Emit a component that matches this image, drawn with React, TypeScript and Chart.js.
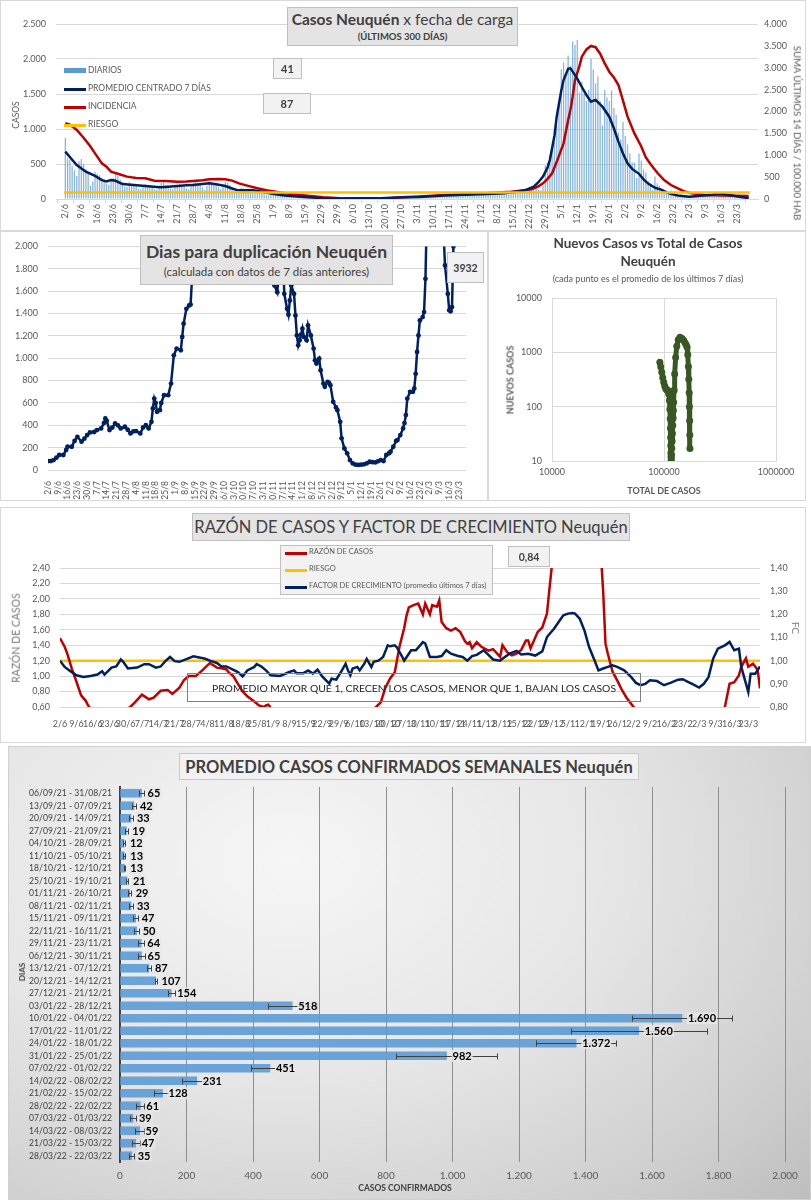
import React, { useEffect, useRef } from 'react';
import { Chart, registerables } from 'chart.js';
Chart.register(...registerables);

const FONT = 'Lato, "Noto Sans", sans-serif';
const NAVY = '#002060';
const RED = '#c00000';
const ORANGE = '#ffc000';
const BLUE = '#5b9bd5';
const GREEN = '#385723';
const TXT = '#595959';
const DARK = '#404040';
const GRID = '#d9d9d9';

// ---------- shared x tick labels (one every 7 days, day 0 = 2/6) ----------
const tickLabels = ['2/6','9/6','16/6','23/6','30/6','7/7','14/7','21/7','28/7','4/8','11/8','18/8','25/8','1/9','8/9','15/9','22/9','29/9','6/10','13/10','20/10','27/10','3/11','10/11','17/11','24/11','1/12','8/12','15/12','22/12','29/12','5/1','12/1','19/1','26/1','2/2','9/2','16/2','23/2','2/3','9/3','16/3','23/3'];

// ---------- Chart 1: Casos Neuquén x fecha de carga ----------
const diarios = [
 870,580,560,470,410,330,540, 570,500,430,370,190,250,390, 360,340,300,280,220,200,260,
 300,350,330,280,240,180,170, 240,220,200,210,150,140,190, 210,200,180,170,140,130,180,
 230,240,200,190,150,140,170, 200,210,190,180,150,140,180, 230,240,230,210,170,130,190,
 260,230,220,200,170,140,180, 240,230,200,170,110,90,120, 160,150,140,120,90,70,100,
 130,110,100,90,60,50,70, 80,75,65,60,45,40,55, 55,45,42,38,28,22,35,
 40,36,32,30,22,18,25, 24,22,20,18,13,10,15, 15,14,12,11,8,7,10,
 15,14,13,12,9,8,12, 15,16,14,13,10,9,13, 23,25,22,21,16,14,19,
 31,33,30,29,22,20,28, 36,38,34,33,26,23,31, 50,52,48,46,36,32,44,
 54,56,52,50,40,36,50, 68,72,66,62,52,46,60, 70,74,68,64,54,50,62,
 92,98,90,86,72,66,82, 115,122,110,106,92,86,102, 165,178,160,150,132,125,190,
 480,520,620,700,820,1050,1400, 1850,1950,1780,2050,1900,2250,2200, 2270,1520,1680,1500,1400,1560,2000,
 1850,1650,1750,1400,1050,1560,1450, 1400,1550,1300,1200,950,850,1100, 900,780,650,520,520,300,650,
 550,420,380,260,220,130,320, 220,190,140,100,90,60,120, 90,72,58,52,40,34,46,
 50,46,40,36,28,25,42, 66,62,56,50,42,36,52, 82,60,46,42,36,30,40,
 42,38,35,30,22,18
];
const promedio: [number, number][] = [
 [0,676],[3,560],[5,486],[9,390],[13,330],[16,270],[18,250],[20,272],[22,260],[25,214],[30,200],[35,186],[40,172],[42,167],[45,175],[49,186],[53,195],[56,200],[60,215],[63,225],[66,210],[70,186],[73,150],[75,129],[78,125],[82,125],[85,112],[88,90],[92,67],[96,50],[100,40],[106,24],[113,12],[120,8],[130,10],[138,12],[145,20],[155,30],[166,50],[175,60],[185,72],[192,81],[197,100],[201,124],[205,176],[207,240],[209,319],[211,450],[212,557],[214,900],[215,1176],[217,1550],[218,1700],[220,1860],[221,1867],[222,1820],[224,1720],[226,1600],[228,1486],[230,1391],[232,1415],[235,1319],[238,1176],[240,1010],[242,820],[244,650],[246,510],[248,430],[251,360],[253,280],[255,220],[258,160],[261,130],[264,80],[268,50],[273,33],[278,45],[283,60],[286,78],[290,60],[294,35],[299,12]
];
const incidencia: [number, number][] = [
 [0,1730],[2,1700],[5,1577],[8,1400],[11,1200],[13,1044],[16,815],[18,740],[20,625],[24,560],[27,511],[31,480],[35,472],[39,419],[44,410],[49,396],[53,400],[56,411],[60,430],[63,450],[67,455],[70,450],[73,420],[76,358],[80,300],[84,244],[88,200],[92,165],[96,130],[99,114],[106,75],[113,38],[120,15],[130,12],[142,15],[147,40],[155,60],[166,90],[180,120],[195,168],[200,195],[204,221],[207,290],[209,358],[211,460],[213,587],[215,850],[218,1272],[220,1800],[221,2035],[222,2350],[223,2720],[225,3050],[226,3254],[228,3420],[230,3498],[232,3470],[234,3320],[236,3100],[238,2910],[240,2780],[242,2606],[244,2250],[246,1882],[249,1500],[252,1200],[254,950],[256,800],[259,600],[262,434],[265,320],[268,244],[271,170],[274,129],[280,91],[288,80],[299,69]
];
const riesgoIncidencia = 150;
const ultimoDiario = 41;
const ultimoPromedio = 87;

// ---------- Chart 2: Días para duplicación ----------
const duplicacion: [number, number][] = [
 [0,80],[2,80],[4,89],[6,110],[8,134],[11,134],[13,180],[14,208],[17,208],[19,260],[21,297],[24,253],[26,280],[28,312],[30,336],[33,340],[35,357],[38,372],[40,420],[41,461],[42,440],[44,357],[46,380],[48,416],[50,400],[52,372],[55,387],[57,360],[59,327],[61,345],[63,348],[66,327],[68,380],[70,401],[72,372],[74,431],[75,550],[76,639],[77,600],[78,520],[80,535],[81,600],[83,669],[86,669],[88,773],[90,1026],[92,1086],[95,1071],[96,1190],[97,1309],[99,1442],[101,1472],[102,1480],[103,1710],[104,2200],[106,2900],[115,4200],[130,5200],[145,4500],[158,3000],[161,2100],[162,1650],[164,1590],[166,1900],[167,2400],[169,1576],[171,1442],[172,1389],[173,1517],[174,1650],[176,1576],[177,1383],[178,1204],[179,1115],[180,1160],[181,1210],[182,1264],[183,1190],[185,1160],[186,1294],[188,1204],[190,1086],[191,981],[192,952],[194,996],[195,892],[197,773],[198,744],[200,788],[201,780],[202,758],[204,610],[206,560],[207,535],[209,431],[210,283],[212,193],[214,149],[216,89],[218,59],[220,48],[222,45],[224,48],[226,51],[228,59],[230,74],[232,70],[234,68],[236,78],[238,89],[240,80],[242,134],[244,150],[245,164],[247,208],[249,260],[250,268],[252,312],[254,372],[255,420],[256,491],[257,639],[259,699],[261,699],[262,729],[263,860],[264,1056],[265,1204],[266,1338],[268,1368],[269,1413],[270,1710],[271,2300],[275,3500],[280,2800],[283,2100],[284,1829],[286,1576],[287,1428],[288,1420],[289,1457],[290,2000],[291,3000],[292,3932]
];
const ultimaDuplicacion = 3932;

// ---------- Chart 3: Nuevos casos vs total ----------
const totalCasos = [91800,93500,95500,97500,99500,101500,103500,105500,107500,109000,110500,111800,112800,113600,114200,114600,114900,115200,115500,115800,116200,116700,117300,118000,118800,119700,120500,121300,122000,123000,124500,127000,130000,134000,139000,145000,150000,154000,157500,160500,163000,165000,166500,167800,168700,169400,170000,170500];
const nuevosCasos = [655,540,430,340,280,240,215,205,200,195,170,130,90,60,40,27,19,14,12,10,11,13,17,23,32,45,62,85,120,200,400,800,1300,1700,1890,1800,1650,1500,1380,1250,900,550,320,180,100,55,30,17];

// ---------- Chart 4: Razón de casos y factor de crecimiento ----------
const razon: [number, number][] = [
 [0,1.49],[2,1.38],[3,1.30],[5,1.10],[7,0.93],[9,0.75],[11,0.68],[12,0.62],[13,0.58],[16,0.50],[20,0.45],[24,0.47],[27,0.54],[28,0.57],[30,0.60],[32,0.66],[35,0.76],[38,0.70],[40,0.72],[43,0.81],[46,0.82],[48,0.77],[51,0.85],[53,0.95],[55,1.00],[58,1.00],[61,1.08],[64,1.17],[67,1.11],[69,1.10],[71,1.09],[72,1.05],[74,1.00],[76,0.90],[78,0.80],[80,0.74],[83,0.67],[85,0.62],[87,0.60],[88,0.62],[89,0.63],[90,0.59],[93,0.52],[100,0.42],[110,0.38],[120,0.40],[128,0.45],[133,0.55],[135,0.60],[137,0.66],[139,0.85],[141,0.97],[143,1.05],[145,1.38],[147,1.62],[148,1.78],[149,1.89],[151,1.92],[153,1.94],[155,1.80],[156,1.94],[158,1.80],[159,1.92],[161,1.90],[162,1.98],[163,1.70],[165,1.62],[167,1.59],[169,1.62],[171,1.57],[173,1.45],[174,1.42],[175,1.44],[176,1.36],[178,1.44],[180,1.38],[183,1.33],[185,1.35],[188,1.25],[189,1.40],[191,1.31],[193,1.27],[195,1.29],[197,1.34],[199,1.46],[200,1.46],[201,1.36],[204,1.57],[206,1.63],[208,1.81],[209,2.11],[210,2.40],[211,2.90],[214,4.00],[220,4.50],[226,4.00],[230,3.00],[231,2.60],[232,2.10],[233,1.42],[234,1.29],[236,1.06],[238,0.945],[240,0.82],[242,0.72],[245,0.60],[247,0.52],[255,0.45],[265,0.40],[275,0.42],[282,0.50],[284,0.60],[286,0.90],[288,0.92],[290,1.01],[291,1.12],[293,1.23],[294,1.12],[296,1.16],[297,1.12],[298,1.08],[299,0.84]
];
const factorCrecimiento: [number, number][] = [
 [0,1.00],[2,0.973],[4,0.958],[7,0.937],[10,0.93],[13,0.934],[16,0.94],[18,0.954],[19,0.94],[22,0.97],[24,0.975],[26,1.005],[27,0.995],[29,0.966],[33,0.97],[36,0.985],[38,0.985],[41,0.97],[43,0.975],[45,0.998],[47,1.016],[49,0.998],[51,0.995],[54,1.007],[57,1.019],[60,1.013],[62,1.008],[64,1.0],[67,0.99],[69,0.975],[71,0.975],[73,0.966],[76,0.951],[78,0.932],[80,0.958],[83,0.973],[84,0.985],[86,0.975],[88,0.958],[90,0.937],[94,0.934],[98,0.951],[100,0.958],[101,0.946],[104,0.946],[106,0.958],[108,0.944],[110,0.961],[112,0.932],[115,0.901],[116,0.922],[118,0.918],[120,0.951],[122,0.987],[123,0.958],[124,0.937],[125,0.966],[127,0.973],[128,0.958],[130,0.987],[131,1.008],[133,0.973],[134,0.995],[136,1.0],[138,1.016],[140,1.066],[141,1.062],[143,1.066],[144,1.056],[146,1.02],[147,1.0],[150,1.045],[152,1.045],[155,1.08],[156,1.075],[158,1.016],[161,1.016],[163,1.02],[165,1.045],[167,1.03],[170,1.02],[172,1.016],[174,1.0],[176,1.02],[178,1.025],[181,1.045],[183,1.025],[185,1.005],[188,1.0],[189,1.008],[192,1.03],[195,1.042],[197,1.027],[200,1.03],[203,1.022],[206,1.04],[208,1.102],[211,1.138],[213,1.167],[215,1.196],[217,1.203],[219,1.206],[220,1.203],[222,1.181],[224,1.131],[226,1.059],[228,1.009],[230,0.958],[232,0.966],[234,0.973],[236,0.98],[238,0.973],[241,0.958],[244,0.929],[246,0.904],[248,0.894],[250,0.9],[252,0.915],[255,0.912],[258,0.894],[261,0.905],[264,0.918],[266,0.92],[268,0.91],[270,0.9],[273,0.884],[275,0.9],[277,0.929],[279,1.009],[281,1.052],[284,1.066],[286,1.081],[288,1.045],[290,1.052],[291,0.973],[293,0.901],[294,0.865],[295,0.944],[297,0.944],[299,0.975]
];
const riesgoRazon = 1.2;
const ultimaRazon = 0.84;

// ---------- Chart 5: Promedio casos confirmados semanales ----------
const semanas = ['06/09/21 - 31/08/21','13/09/21 - 07/09/21','20/09/21 - 14/09/21','27/09/21 - 21/09/21','04/10/21 - 28/09/21','11/10/21 - 05/10/21','18/10/21 - 12/10/21','25/10/21 - 19/10/21','01/11/21 - 26/10/21','08/11/21 - 02/11/21','15/11/21 - 09/11/21','22/11/21 - 16/11/21','29/11/21 - 23/11/21','06/12/21 - 30/11/21','13/12/21 - 07/12/21','20/12/21 - 14/12/21','27/12/21 - 21/12/21','03/01/22 - 28/12/21','10/01/22 - 04/01/22','17/01/22 - 11/01/22','24/01/22 - 18/01/22','31/01/22 - 25/01/22','07/02/22 - 01/02/22','14/02/22 - 08/02/22','21/02/22 - 15/02/22','28/02/22 - 22/02/22','07/03/22 - 01/03/22','14/03/22 - 08/03/22','21/03/22 - 15/03/22','28/03/22 - 22/03/22'];
const semanalValores = [65,42,33,19,12,13,13,21,29,33,47,50,64,65,87,107,154,518,1690,1560,1372,982,451,231,128,61,39,59,47,35];
const semanalError = [8,7,6,4,3,3,2,4,5,5,7,8,9,11,7,3,10,73,150,205,120,153,58,45,25,12,8,14,12,8];

// ---------- helpers ----------
const miles = (v: number) => String(Math.round(v)).replace(/\B(?=(\d{3})+(?!\d))/g, '.');
const dec2 = (v: number) => v.toFixed(2).replace('.', ',');
const pts = (a: [number, number][]) => a.map(([x, y]) => ({ x, y }));
const weekTicks = (ax: any) => { ax.ticks = tickLabels.map((_, i) => ({ value: i * 7 })); };
const fixW = (w: number) => (s: any) => { s.width = w; };
const fixH = (h: number) => (s: any) => { s.height = h; };
const f = (size: number, weight: any = 'normal') => ({ family: FONT, size, weight });

function ChartCanvas({ x, y, w, h, make }: { x: number; y: number; w: number; h: number; make: () => any }) {
  const ref = useRef<HTMLCanvasElement>(null);
  useEffect(() => {
    const c = new Chart(ref.current as HTMLCanvasElement, make());
    return () => c.destroy();
  }, []);
  return <canvas ref={ref} width={w} height={h} style={{ position: 'absolute', left: x, top: y, width: w, height: h }} />;
}

function Txt({ cx, cy, rot = 0, style, children }: any) {
  return (
    <div style={{ position: 'absolute', left: cx, top: cy, transform: `translate(-50%,-50%) rotate(${rot}deg)`, whiteSpace: 'nowrap', fontFamily: FONT, lineHeight: 1, ...style }}>
      {children}
    </div>
  );
}

function Box({ x, y, w, h, bg = '#e4e4e4', border = '#bfbfbf', children, style }: any) {
  return (
    <div style={{ position: 'absolute', left: x, top: y, width: w, height: h, boxSizing: 'border-box', background: bg, border: `1px solid ${border}`, display: 'flex', flexDirection: 'column', alignItems: 'center', justifyContent: 'center', fontFamily: FONT, color: DARK, whiteSpace: 'nowrap', ...style }}>
      {children}
    </div>
  );
}

function Panel({ x, y, w, h, style }: any) {
  return <div style={{ position: 'absolute', left: x, top: y, width: w, height: h, boxSizing: 'border-box', border: '1px solid #d9d9d9', ...style }} />;
}

function LegendLine({ x, y, color, thick = 3, label, size = 8.5 }: any) {
  return (
    <>
      <div style={{ position: 'absolute', left: x, top: y - thick / 2, width: 22, height: thick, background: color }} />
      <div style={{ position: 'absolute', left: x + 24, top: y - size / 2 - 1, fontFamily: FONT, fontSize: size, color: TXT, whiteSpace: 'nowrap', lineHeight: 1.1 }}>{label}</div>
    </>
  );
}

const base = { responsive: false, animation: false, devicePixelRatio: 1, maintainAspectRatio: false };
const noPlugins = { legend: { display: false }, tooltip: { enabled: false } };

// ---------- configs ----------
const makeCasos = () => ({
  type: 'bar',
  data: {
    datasets: [
      { type: 'line', data: [{ x: -0.5, y: riesgoIncidencia }, { x: 299.5, y: riesgoIncidencia }], yAxisID: 'y2', borderColor: ORANGE, borderWidth: 2.5, pointRadius: 0, order: 1 },
      { type: 'line', data: pts(promedio), yAxisID: 'y', borderColor: NAVY, borderWidth: 2.5, pointRadius: 0, order: 2 },
      { type: 'line', data: pts(incidencia), yAxisID: 'y2', borderColor: RED, borderWidth: 2.5, pointRadius: 0, order: 3 },
      { type: 'bar', data: diarios.map((v, i) => ({ x: i, y: v })), yAxisID: 'y', backgroundColor: 'rgba(91,155,213,0.75)', barPercentage: 0.55, categoryPercentage: 1, order: 4 },
    ],
  },
  options: {
    ...base,
    layout: { padding: { top: 24, left: 0, right: 0, bottom: 0 } },
    plugins: noPlugins,
    scales: {
      x: {
        type: 'linear', min: -0.5, max: 299.5, afterBuildTicks: weekTicks, afterFit: fixH(31),
        ticks: { autoSkip: false, minRotation: 90, maxRotation: 90, padding: 1, font: f(9), color: TXT, callback: (_v: any, i: number) => tickLabels[i] },
        grid: { drawOnChartArea: false, tickLength: 4, color: GRID }, border: { color: GRID },
      },
      y: {
        position: 'left', min: 0, max: 2500, afterFit: fixW(56),
        ticks: { stepSize: 500, padding: 10, font: f(9), color: TXT, callback: (v: any) => miles(v) },
        grid: { color: GRID, drawTicks: false }, border: { display: false },
      },
      y2: {
        position: 'right', min: 0, max: 4000, afterFit: fixW(48),
        ticks: { stepSize: 500, padding: 6, font: f(9), color: TXT, callback: (v: any) => miles(v) },
        grid: { display: false, drawTicks: false }, border: { display: false },
      },
    },
  },
});

const makeDuplicacion = () => ({
  type: 'line',
  data: {
    datasets: [
      { data: pts(duplicacion), borderColor: NAVY, backgroundColor: NAVY, borderWidth: 2.5, pointRadius: 2.4, pointBorderWidth: 0, pointBackgroundColor: NAVY },
    ],
  },
  options: {
    ...base,
    layout: { padding: { top: 15, left: 0, right: 21, bottom: 0 } },
    plugins: noPlugins,
    scales: {
      x: {
        type: 'linear', min: 0, max: 299, afterBuildTicks: weekTicks, afterFit: fixH(30),
        ticks: { autoSkip: false, minRotation: 90, maxRotation: 90, padding: 3, font: f(8.5), color: TXT, callback: (_v: any, i: number) => tickLabels[i] },
        grid: { display: false }, border: { display: false },
      },
      y: {
        min: 0, max: 2000, afterFit: fixW(48),
        ticks: { stepSize: 200, padding: 10, font: f(9), color: TXT, callback: (v: any) => miles(v) },
        grid: { color: GRID, drawTicks: false }, border: { display: false },
      },
    },
  },
});

const makeScatter = () => ({
  type: 'scatter',
  data: {
    datasets: [
      { data: totalCasos.map((x, i) => ({ x, y: nuevosCasos[i] })), showLine: true, borderColor: GREEN, backgroundColor: GREEN, borderWidth: 5, pointRadius: 3.5, pointBorderWidth: 0 },
    ],
  },
  options: {
    ...base,
    layout: { padding: { top: 67, left: 0, right: 30, bottom: 0 } },
    plugins: noPlugins,
    scales: {
      x: {
        type: 'logarithmic', min: 10000, max: 1000000, afterFit: fixH(39),
        afterBuildTicks: (ax: any) => { ax.ticks = [10000, 100000, 1000000].map((value) => ({ value })); },
        ticks: { padding: 6, font: f(9), color: TXT, callback: (v: any) => String(v) },
        grid: { color: GRID, drawTicks: false }, border: { color: GRID },
      },
      y: {
        type: 'logarithmic', min: 10, max: 10000, afterFit: fixW(64),
        afterBuildTicks: (ax: any) => { ax.ticks = [10, 100, 1000, 10000].map((value) => ({ value })); },
        ticks: { padding: 10, font: f(9), color: TXT, callback: (v: any) => String(v) },
        grid: { color: GRID, drawTicks: false }, border: { color: GRID },
      },
    },
  },
});

const makeRazon = () => ({
  type: 'line',
  data: {
    datasets: [
      { data: [{ x: 0, y: riesgoRazon }, { x: 299, y: riesgoRazon }], yAxisID: 'y', borderColor: ORANGE, borderWidth: 2.5, pointRadius: 0, order: 3 },
      { data: pts(razon), yAxisID: 'y', borderColor: RED, borderWidth: 2.5, pointRadius: 0, order: 2 },
      { data: pts(factorCrecimiento), yAxisID: 'y2', borderColor: NAVY, borderWidth: 2.5, pointRadius: 0, order: 1 },
    ],
  },
  options: {
    ...base,
    layout: { padding: { top: 61, left: 0, right: 0, bottom: 0 } },
    plugins: noPlugins,
    scales: {
      x: {
        type: 'linear', min: 0, max: 299, afterBuildTicks: weekTicks, afterFit: fixH(36),
        ticks: { autoSkip: false, minRotation: 0, maxRotation: 0, padding: 4, font: f(9), color: TXT, callback: (_v: any, i: number) => tickLabels[i] },
        grid: { display: false }, border: { display: false },
      },
      y: {
        position: 'left', min: 0.6, max: 2.4, afterFit: fixW(60),
        ticks: { stepSize: 0.2, padding: 10, font: f(9), color: TXT, callback: (v: any) => dec2(v) },
        grid: { color: GRID, drawTicks: false }, border: { display: false },
      },
      y2: {
        position: 'right', min: 0.8, max: 1.4, afterFit: fixW(46),
        ticks: { stepSize: 0.1, padding: 10, font: f(9), color: TXT, callback: (v: any) => dec2(v) },
        grid: { display: false, drawTicks: false }, border: { display: false },
      },
    },
  },
});

const errorBarsAndLabels = {
  id: 'errorBarsAndLabels',
  afterDatasetsDraw(chart: any) {
    const { ctx } = chart;
    const xs = chart.scales.x;
    const meta = chart.getDatasetMeta(0);
    ctx.save();
    ctx.strokeStyle = '#404040';
    ctx.lineWidth = 1;
    meta.data.forEach((el: any, i: number) => {
      const v = semanalValores[i];
      const e = semanalError[i];
      const yy = Math.round(el.y) + 0.5;
      const x1 = Math.round(xs.getPixelForValue(v - e)) + 0.5;
      const x2 = Math.round(xs.getPixelForValue(v + e)) + 0.5;
      ctx.beginPath();
      ctx.moveTo(x1, yy); ctx.lineTo(x2, yy);
      ctx.moveTo(x1, yy - 3); ctx.lineTo(x1, yy + 3);
      ctx.moveTo(x2, yy - 3); ctx.lineTo(x2, yy + 3);
      ctx.stroke();
    });
    ctx.font = `bold 11px ${FONT}`;
    ctx.textBaseline = 'middle';
    ctx.textAlign = 'left';
    meta.data.forEach((el: any, i: number) => {
      const t = miles(semanalValores[i]);
      const lx = el.x + 6;
      const tw = ctx.measureText(t).width;
      ctx.fillStyle = 'rgba(232,232,232,0.85)';
      ctx.fillRect(lx - 1, el.y - 6, tw + 2, 12);
      ctx.fillStyle = '#000000';
      ctx.fillText(t, lx, el.y + 0.5);
    });
    ctx.restore();
  },
};

const makeSemanal = () => ({
  type: 'bar',
  data: {
    labels: semanas,
    datasets: [
      { data: semanalValores, backgroundColor: 'rgba(91,155,213,0.9)', barThickness: 8 },
    ],
  },
  options: {
    ...base,
    indexAxis: 'y',
    layout: { padding: { top: 41, left: 0, right: 26, bottom: 0 } },
    plugins: noPlugins,
    scales: {
      x: {
        min: 0, max: 2000, afterFit: fixH(38),
        ticks: { stepSize: 200, padding: 8, font: f(10), color: TXT, callback: (v: any) => miles(v) },
        grid: { color: '#8f8f8f', drawTicks: false }, border: { display: false },
      },
      y: {
        afterFit: fixW(112),
        ticks: { padding: 8, font: f(8.6), color: DARK, autoSkip: false },
        grid: { display: false, drawTicks: false }, border: { color: '#404040', width: 2 },
      },
    },
  },
  plugins: [errorBarsAndLabels],
});

export default function App() {
  return (
    <div style={{ position: 'absolute', left: 0, top: 0, width: 811, height: 1200, background: '#ffffff', overflow: 'hidden', fontFamily: FONT }}>
      {/* Panel 1 */}
      <Panel x={0} y={0} w={806} h={231} />
      <ChartCanvas x={0} y={0} w={806} h={230} make={makeCasos} />
      <Box x={287} y={7} w={231} h={39} bg="#e4e4e4">
        <div style={{ fontSize: 15.5, lineHeight: 1.15 }}><b>Casos Neuquén</b> x fecha de carga</div>
        <div style={{ fontSize: 9.5, fontWeight: 'bold', marginTop: 2 }}>(ÚLTIMOS 300 DÍAS)</div>
      </Box>
      <div style={{ position: 'absolute', left: 64, top: 68, width: 22, height: 5, background: BLUE }} />
      <div style={{ position: 'absolute', left: 88, top: 65.5, fontFamily: FONT, fontSize: 8.5, color: TXT, lineHeight: 1.1 }}>DIARIOS</div>
      <LegendLine x={64} y={89} color={NAVY} label="PROMEDIO CENTRADO 7 DÍAS" />
      <LegendLine x={64} y={107} color={RED} label="INCIDENCIA" />
      <LegendLine x={64} y={125} color={ORANGE} label="RIESGO" />
      <Box x={273} y={58} w={29} h={21} bg="#f2f2f2" style={{ fontSize: 11, fontWeight: 'bold' }}>{ultimoDiario}</Box>
      <Box x={263} y={93} w={48} h={21} bg="#f2f2f2" style={{ fontSize: 11, fontWeight: 'bold' }}>{ultimoPromedio}</Box>
      <Txt cx={16} cy={115} rot={-90} style={{ fontSize: 8.5, color: TXT }}>CASOS</Txt>
      <Txt cx={797} cy={133} rot={90} style={{ fontSize: 9.5, color: TXT }}>SUMA  ÚLTIMOS 14 DÍAS / 100.000 HAB</Txt>

      {/* Panel 2 */}
      <Panel x={0} y={231} w={488} h={270} />
      <ChartCanvas x={0} y={231} w={487} h={269} make={makeDuplicacion} />
      <Box x={140} y={235} w={253} h={50} bg="#e4e4e4">
        <div style={{ fontSize: 17.5, fontWeight: 'bold', lineHeight: 1.1 }}>Dias para duplicación Neuquén</div>
        <div style={{ fontSize: 11.5, marginTop: 4 }}>(calculada con datos de 7 días anteriores)</div>
      </Box>
      <Box x={447} y={252} w={37} h={31} bg="#f2f2f2" style={{ fontSize: 10.5, fontWeight: 'bold' }}>{ultimaDuplicacion}</Box>

      {/* Panel 3 */}
      <Panel x={488} y={231} w={318} h={270} />
      <ChartCanvas x={488} y={231} w={318} h={269} make={makeScatter} />
      <Txt cx={648} cy={244} style={{ fontSize: 13.5, fontWeight: 'bold', color: DARK }}>Nuevos Casos vs Total de Casos</Txt>
      <Txt cx={648} cy={262} style={{ fontSize: 13.5, fontWeight: 'bold', color: DARK }}>Neuquén</Txt>
      <Txt cx={648} cy={278} style={{ fontSize: 9, color: TXT }}>(cada punto es el promedio de los últimos 7 días)</Txt>
      <Txt cx={664} cy={490} style={{ fontSize: 9, fontWeight: 'bold', color: TXT }}>TOTAL DE CASOS</Txt>
      <Txt cx={510} cy={380} rot={-90} style={{ fontSize: 9, fontWeight: 'bold', color: TXT }}>NUEVOS CASOS</Txt>

      {/* Panel 4 */}
      <Panel x={0} y={507} w={806} h={236} />
      <ChartCanvas x={0} y={507} w={806} h={236} make={makeRazon} />
      <Box x={192} y={513} w={438} h={28} bg="#e4e4e4" style={{ fontSize: 16.5 }}>RAZÓN DE CASOS Y FACTOR DE CRECIMIENTO Neuquén</Box>
      <div style={{ position: 'absolute', left: 280, top: 545, width: 213, height: 50, boxSizing: 'border-box', background: '#f2f2f2', border: '1px solid #bfbfbf' }} />
      <LegendLine x={285} y={553} color={RED} label="RAZÓN DE CASOS" size={7.5} />
      <LegendLine x={285} y={570} color={ORANGE} label="RIESGO" size={7.5} />
      <LegendLine x={285} y={587} color={NAVY} label="FACTOR DE CRECIMIENTO (promedio últimos 7 días)" size={7.5} />
      <Box x={508} y={546} w={42} h={21} bg="#f2f2f2" style={{ fontSize: 10.5, fontWeight: 'bold' }}>{dec2(ultimaRazon)}</Box>
      <div style={{ position: 'absolute', left: 187, top: 673, width: 454, height: 29, boxSizing: 'border-box', border: '1px solid #808080', display: 'flex', alignItems: 'center', justifyContent: 'center', fontFamily: FONT, fontSize: 10.4, color: '#262626', whiteSpace: 'nowrap' }}>PROMEDIO MAYOR QUE 1, CRECEN LOS CASOS, MENOR QUE 1, BAJAN LOS CASOS</div>
      <Txt cx={16} cy={638} rot={-90} style={{ fontSize: 10.5, color: '#7a7a7a' }}>RAZÓN DE CASOS</Txt>
      <Txt cx={796} cy={628} rot={90} style={{ fontSize: 10, color: '#7a7a7a' }}>FC</Txt>

      {/* Panel 5 */}
      <div style={{ position: 'absolute', left: 8, top: 746, width: 803, height: 454, boxSizing: 'border-box', border: '1px solid #d0d0d0', background: 'radial-gradient(ellipse 90% 110% at 35% 25%, #f6f6f6 0%, #e6e6e6 45%, #cfcfcf 80%, #bdbdbd 100%)' }} />
      <ChartCanvas x={8} y={746} w={803} h={454} make={makeSemanal} />
      <Box x={179} y={753} w={460} h={27} bg="#f2f2f2" border="#c8c8c8" style={{ fontSize: 16.5, fontWeight: 'bold' }}>PROMEDIO CASOS CONFIRMADOS SEMANALES Neuquén</Box>
      <Txt cx={22} cy={972} rot={-90} style={{ fontSize: 8, fontWeight: 'bold', color: DARK }}>DIAS</Txt>
      <Txt cx={405} cy={1188} style={{ fontSize: 8.5, fontWeight: 'bold', color: DARK }}>CASOS CONFIRMADOS</Txt>
    </div>
  );
}
